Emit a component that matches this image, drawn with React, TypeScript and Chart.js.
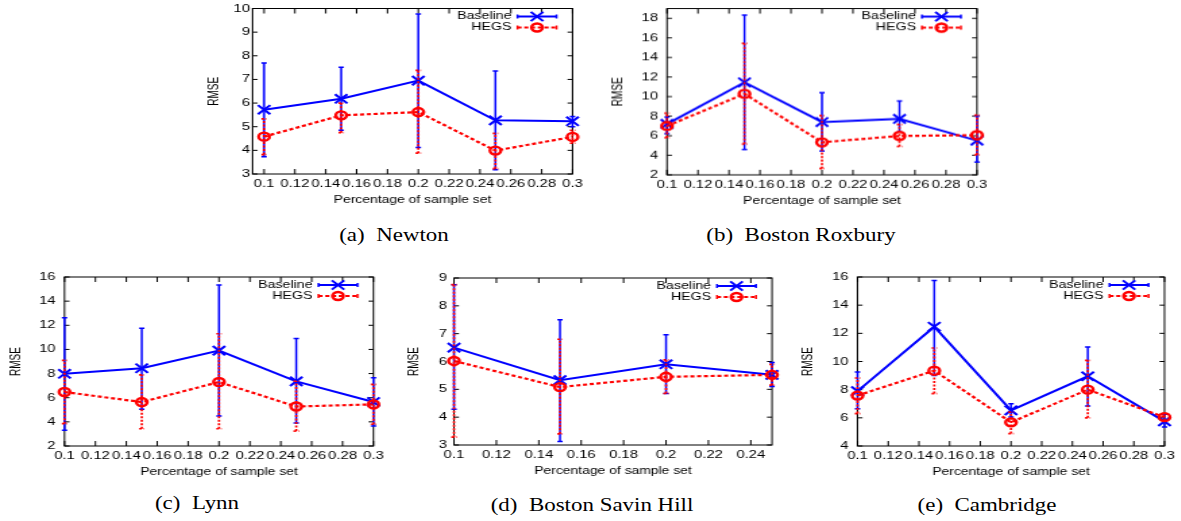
import React, { useEffect, useRef } from 'react';
import { Chart, registerables } from 'chart.js';

Chart.register(...registerables);

// ---------- data ----------
const xValues = [0.1, 0.15, 0.2, 0.25, 0.3];
const xValuesSavin = [0.1, 0.15, 0.2, 0.25];
const xTickLabels = [0.1, 0.12, 0.14, 0.16, 0.18, 0.2, 0.22, 0.24, 0.26, 0.28, 0.3];
const xTickLabelsSavin = [0.1, 0.12, 0.14, 0.16, 0.18, 0.2, 0.22, 0.24];

// (a) Newton
const newtonYTicks = [3, 4, 5, 6, 7, 8, 9, 10];
const newtonBaseline = [5.72, 6.18, 6.95, 5.27, 5.23];
const newtonBaselineLow = [3.73, 4.85, 4.12, 3.18, 5.0];
const newtonBaselineHigh = [7.69, 7.51, 9.77, 7.36, 5.43];
const newtonHegs = [4.58, 5.48, 5.62, 3.99, 4.57];
const newtonHegsLow = [3.82, 4.75, 3.88, 3.23, 4.3];
const newtonHegsHigh = [5.33, 6.0, 7.38, 4.72, 4.85];

// (b) Boston Roxbury
const roxburyYTicks = [2, 4, 6, 8, 10, 12, 14, 16, 18];
const roxburyBaseline = [7.2, 11.45, 7.4, 7.72, 5.5];
const roxburyBaselineLow = [6.2, 4.6, 4.45, 6.4, 3.3];
const roxburyBaselineHigh = [7.9, 18.33, 10.4, 9.55, 8.0];
const roxburyHegs = [7.0, 10.28, 5.33, 5.98, 6.06];
const roxburyHegsLow = [5.8, 5.15, 2.65, 4.9, 4.05];
const roxburyHegsHigh = [8.3, 15.45, 8.05, 7.15, 8.1];

// (c) Lynn
const lynnYTicks = [2, 4, 6, 8, 10, 12, 14, 16];
const lynnBaseline = [7.98, 8.44, 9.9, 7.35, 5.65];
const lynnBaselineLow = [3.3, 5.05, 4.48, 3.9, 3.65];
const lynnBaselineHigh = [12.62, 11.75, 15.34, 10.9, 7.66];
const lynnHegs = [6.47, 5.64, 7.3, 5.27, 5.45];
const lynnHegsLow = [3.85, 3.43, 3.43, 3.24, 3.8];
const lynnHegsHigh = [9.1, 7.9, 11.3, 7.38, 7.1];

// (d) Boston Savin Hill
const savinYTicks = [3, 4, 5, 6, 7, 8, 9];
const savinBaseline = [6.5, 5.33, 5.9, 5.52];
const savinBaselineLow = [4.28, 3.13, 4.85, 5.1];
const savinBaselineHigh = [8.76, 7.5, 6.96, 5.96];
const savinHegs = [6.02, 5.08, 5.45, 5.52];
const savinHegsLow = [3.28, 3.4, 4.85, 5.15];
const savinHegsHigh = [8.76, 6.8, 6.06, 5.9];

// (e) Cambridge
const cambridgeYTicks = [4, 6, 8, 10, 12, 14, 16];
const cambridgeBaseline = [7.9, 12.47, 6.53, 8.95, 5.75];
const cambridgeBaselineLow = [6.65, 9.0, 6.06, 6.84, 5.35];
const cambridgeBaselineHigh = [9.25, 15.76, 7.0, 11.03, 6.26];
const cambridgeHegs = [7.58, 9.35, 5.68, 8.0, 6.05];
const cambridgeHegsLow = [6.3, 7.72, 4.88, 6.0, 5.8];
const cambridgeHegsHigh = [8.83, 10.96, 6.4, 10.08, 6.3];

const seriesNames = ['Baseline', 'HEGS'];
const xTitle = 'Percentage of sample set';
const yTitle = 'RMSE';

// ---------- layout / style ----------
const S = 1.35; // horizontal stretch of the original figure
const SANS = '"Liberation Sans", Arial, Helvetica, sans-serif';
const BLUE = '#0000ff';
const RED = '#ff0000';

type PanelDef = {
  key: string;
  x: number[];
  xTicks: number[];
  yTicks: number[];
  xMin: number; xMax: number; yMin: number; yMax: number;
  base: number[]; baseLo: number[]; baseHi: number[];
  hegs: number[]; hegsLo: number[]; hegsHi: number[];
  fl: number; fr: number; ft: number; fb: number;
  rmseX: number; yGap: number;
  caption: string; capX: number; capY: number;
};

const panels: PanelDef[] = [
  {
    key: 'a', x: xValues, xTicks: xTickLabels, yTicks: newtonYTicks,
    xMin: 0.0925, xMax: 0.3, yMin: 3, yMax: 10,
    base: newtonBaseline, baseLo: newtonBaselineLow, baseHi: newtonBaselineHigh,
    hegs: newtonHegs, hegsLo: newtonHegsLow, hegsHi: newtonHegsHigh,
    fl: 252, fr: 572, ft: 8, fb: 174, rmseX: 213.5, yGap: 2.5,
    caption: '(a)  Newton', capX: 394, capY: 235,
  },
  {
    key: 'b', x: xValues, xTicks: xTickLabels, yTicks: roxburyYTicks,
    xMin: 0.1, xMax: 0.3, yMin: 2, yMax: 19,
    base: roxburyBaseline, baseLo: roxburyBaselineLow, baseHi: roxburyBaselineHigh,
    hegs: roxburyHegs, hegsLo: roxburyHegsLow, hegsHi: roxburyHegsHigh,
    fl: 667, fr: 977, ft: 5, fb: 174.7, rmseX: 618, yGap: 9,
    caption: '(b)  Boston Roxbury', capX: 801, capY: 235,
  },
  {
    key: 'c', x: xValues, xTicks: xTickLabels, yTicks: lynnYTicks,
    xMin: 0.1, xMax: 0.3, yMin: 2, yMax: 16,
    base: lynnBaseline, baseLo: lynnBaselineLow, baseHi: lynnBaselineHigh,
    hegs: lynnHegs, hegsLo: lynnHegsLow, hegsHi: lynnHegsHigh,
    fl: 64, fr: 373, ft: 277, fb: 446, rmseX: 15.5, yGap: 9,
    caption: '(c)  Lynn', capX: 196.5, capY: 503,
  },
  {
    key: 'd', x: xValuesSavin, xTicks: xTickLabelsSavin, yTicks: savinYTicks,
    xMin: 0.1, xMax: 0.25, yMin: 3, yMax: 9,
    base: savinBaseline, baseLo: savinBaselineLow, baseHi: savinBaselineHigh,
    hegs: savinHegs, hegsLo: savinHegsLow, hegsHi: savinHegsHigh,
    fl: 454, fr: 772, ft: 278, fb: 445, rmseX: 414, yGap: 7,
    caption: '(d)  Boston Savin Hill', capX: 592, capY: 505,
  },
  {
    key: 'e', x: xValues, xTicks: xTickLabels, yTicks: cambridgeYTicks,
    xMin: 0.1, xMax: 0.3, yMin: 4, yMax: 16,
    base: cambridgeBaseline, baseLo: cambridgeBaselineLow, baseHi: cambridgeBaselineHigh,
    hegs: cambridgeHegs, hegsLo: cambridgeHegsLow, hegsHi: cambridgeHegsHigh,
    fl: 857, fr: 1164, ft: 277, fb: 446, rmseX: 807.5, yGap: 9,
    caption: '(e)  Cambridge', capX: 987, capY: 505,
  },
];

function drawMarker(ctx: CanvasRenderingContext2D, kind: string, x: number, y: number, color: string) {
  ctx.save();
  ctx.setLineDash([]);
  ctx.strokeStyle = color;
  if (kind === 'cross') {
    const d = 6.5 * Math.SQRT1_2;
    ctx.lineWidth = 2;
    ctx.beginPath();
    ctx.moveTo(x - d, y - d); ctx.lineTo(x + d, y + d);
    ctx.moveTo(x - d, y + d); ctx.lineTo(x + d, y - d);
    ctx.stroke();
  } else {
    ctx.lineWidth = 2.4;
    ctx.beginPath();
    ctx.arc(x, y, 4, 0, Math.PI * 2);
    ctx.stroke();
  }
  ctx.restore();
}

function PanelChart({ p }: { p: PanelDef }) {
  const ref = useRef<HTMLCanvasElement>(null);
  const L = p.rmseX - 12;
  const R = p.fr + 14;
  const T = Math.max(0, p.ft - 10);
  const B = p.fb + 38;
  const W = Math.ceil((R - L) / S);
  const H = B - T;

  useEffect(() => {
    if (!ref.current) return;
    const rmseFont = 10;
    const padLeft = (p.rmseX - L) / S - (rmseFont * 1.2) / 2;
    const yw = (p.fl - L) / S - padLeft;
    const padTop = p.ft - T;
    const padRight = W - (p.fr - L) / S;
    const xh = 32.5;
    const padBottom = H - (p.fb - T) - xh;

    const errs = [
      { lo: p.baseLo, hi: p.baseHi, color: BLUE, dash: [] as number[], width: 1.5 },
      { lo: p.hegsLo, hi: p.hegsHi, color: RED, dash: [2, 1.5], width: 1.7 },
    ];

    const gp = {
      id: 'gnuplotStyle' + p.key,
      beforeDatasetsDraw(chart: any) {
        const { ctx, chartArea: a, scales } = chart;
        ctx.save();
        ctx.strokeStyle = '#000';
        ctx.lineWidth = 1;
        ctx.strokeRect(a.left, a.top, a.right - a.left, a.bottom - a.top);
        ctx.beginPath();
        const tx = 5, ty = 5 / S;
        for (const v of p.xTicks) {
          const px = scales.x.getPixelForValue(v);
          ctx.moveTo(px, a.bottom); ctx.lineTo(px, a.bottom - tx);
          ctx.moveTo(px, a.top); ctx.lineTo(px, a.top + tx);
        }
        for (const v of p.yTicks) {
          const py = scales.y.getPixelForValue(v);
          ctx.moveTo(a.left, py); ctx.lineTo(a.left + ty, py);
          ctx.moveTo(a.right, py); ctx.lineTo(a.right - ty, py);
        }
        ctx.stroke();
        ctx.restore();
      },
      beforeDatasetDraw(chart: any, args: any) {
        const e = errs[args.index];
        if (!e) return;
        const { ctx, scales } = chart;
        ctx.save();
        ctx.strokeStyle = e.color;
        ctx.lineWidth = e.width;
        ctx.setLineDash(e.dash);
        const cw = 2;
        p.x.forEach((xv, i) => {
          const px = scales.x.getPixelForValue(xv);
          const y1 = scales.y.getPixelForValue(e.lo[i]);
          const y2 = scales.y.getPixelForValue(e.hi[i]);
          ctx.beginPath();
          ctx.moveTo(px, y1); ctx.lineTo(px, y2);
          ctx.moveTo(px - cw, y1); ctx.lineTo(px + cw, y1);
          ctx.moveTo(px - cw, y2); ctx.lineTo(px + cw, y2);
          ctx.stroke();
        });
        ctx.restore();
      },
      afterDraw(chart: any) {
        const { ctx, chartArea: a } = chart;
        const rows = [
          { text: seriesNames[0], color: BLUE, dash: [] as number[], width: 2, marker: 'cross', y: a.top + 8 },
          { text: seriesNames[1], color: RED, dash: [3, 2], width: 2.2, marker: 'circle', y: a.top + 19 },
        ];
        ctx.save();
        ctx.font = `10.5px ${SANS}`;
        ctx.fillStyle = '#000';
        ctx.textAlign = 'right';
        ctx.textBaseline = 'middle';
        for (const r of rows) {
          const tRight = a.right - 61 / S;
          const x1 = a.right - 55 / S;
          const x2 = a.right - 16 / S;
          ctx.fillText(r.text, tRight, r.y);
          ctx.strokeStyle = r.color;
          ctx.lineWidth = r.width;
          ctx.setLineDash(r.dash);
          ctx.beginPath();
          ctx.moveTo(x1, r.y); ctx.lineTo(x2, r.y);
          ctx.stroke();
          ctx.setLineDash([]);
          ctx.lineWidth = 1.5;
          ctx.beginPath();
          ctx.moveTo(x1, r.y - 2); ctx.lineTo(x1, r.y + 2);
          ctx.moveTo(x2, r.y - 2); ctx.lineTo(x2, r.y + 2);
          ctx.stroke();
          drawMarker(ctx, r.marker, (x1 + x2) / 2, r.y, r.color);
        }
        ctx.restore();
      },
    };

    const chart = new Chart(ref.current, {
      type: 'line',
      data: {
        datasets: [
          {
            label: seriesNames[0],
            data: p.x.map((xv, i) => ({ x: xv, y: p.base[i] })),
            borderColor: BLUE,
            backgroundColor: BLUE,
            borderWidth: 2,
            pointStyle: 'crossRot',
            pointRadius: 6.5,
            pointBorderWidth: 2,
            pointBorderColor: BLUE,
            fill: false,
            tension: 0,
            clip: false as any,
            order: 2,
          },
          {
            label: seriesNames[1],
            data: p.x.map((xv, i) => ({ x: xv, y: p.hegs[i] })),
            borderColor: RED,
            backgroundColor: 'rgba(0,0,0,0)',
            borderWidth: 2.2,
            borderDash: [3, 2],
            pointStyle: 'circle',
            pointRadius: 4,
            pointBorderWidth: 2.4,
            pointBorderColor: RED,
            pointBackgroundColor: 'rgba(0,0,0,0)',
            fill: false,
            tension: 0,
            clip: false as any,
            order: 1,
          },
        ],
      },
      options: {
        responsive: false,
        maintainAspectRatio: false,
        animation: false,
        devicePixelRatio: 1,
        events: [],
        layout: { padding: { left: padLeft, right: padRight, top: padTop, bottom: padBottom } },
        plugins: { legend: { display: false }, tooltip: { enabled: false }, title: { display: false } },
        scales: {
          x: {
            type: 'linear',
            min: p.xMin,
            max: p.xMax,
            grid: { display: false, drawTicks: false, tickLength: 0 },
            border: { display: false },
            afterBuildTicks: (axis: any) => { axis.ticks = p.xTicks.map((v) => ({ value: v })); },
            afterFit: (sc: any) => { sc.height = xh; sc.paddingLeft = 0; sc.paddingRight = 0; sc.paddingTop = 0; sc.paddingBottom = 0; },
            ticks: {
              autoSkip: false, maxRotation: 0, minRotation: 0, padding: 3,
              color: '#000', font: { family: SANS, size: 11 },
              callback: (v: any) => String(v),
            },
            title: { display: true, text: xTitle, color: '#000', font: { family: SANS, size: 10.3 }, padding: 0 },
          },
          y: {
            type: 'linear',
            min: p.yMin,
            max: p.yMax,
            grid: { display: false, drawTicks: false, tickLength: 0 },
            border: { display: false },
            afterBuildTicks: (axis: any) => { axis.ticks = p.yTicks.map((v) => ({ value: v })); },
            afterFit: (sc: any) => { sc.width = yw; sc.paddingLeft = 0; sc.paddingRight = 0; sc.paddingTop = 0; sc.paddingBottom = 0; },
            ticks: {
              autoSkip: false, padding: p.yGap / S,
              color: '#000', font: { family: SANS, size: 11 },
              callback: (v: any) => String(v),
            },
            title: { display: true, text: yTitle, color: '#000', font: { family: SANS, size: rmseFont }, padding: 0 },
          },
        },
      } as any,
      plugins: [gp],
    });
    return () => chart.destroy();
  }, []);

  return (
    <canvas
      ref={ref}
      width={W}
      height={H}
      style={{
        position: 'absolute', left: L, top: T, width: W, height: H,
        transform: `scaleX(${S})`, transformOrigin: '0 0',
      }}
    />
  );
}

export default function App() {
  return (
    <div style={{ position: 'absolute', left: 0, top: 0, width: 1181, height: 521, background: '#fff', overflow: 'hidden' }}>
      {panels.map((p) => (
        <PanelChart key={p.key} p={p} />
      ))}
      {panels.map((p) => (
        <div
          key={'cap' + p.key}
          style={{
            position: 'absolute', left: p.capX - 200, top: p.capY - 12, width: 400, height: 24,
            textAlign: 'center', font: '18.5px "Liberation Serif", "DejaVu Serif", serif', lineHeight: '24px',
            whiteSpace: 'pre', transform: 'scaleX(1.24)', transformOrigin: '50% 50%', color: '#000',
          }}
        >
          {p.caption}
        </div>
      ))}
    </div>
  );
}
